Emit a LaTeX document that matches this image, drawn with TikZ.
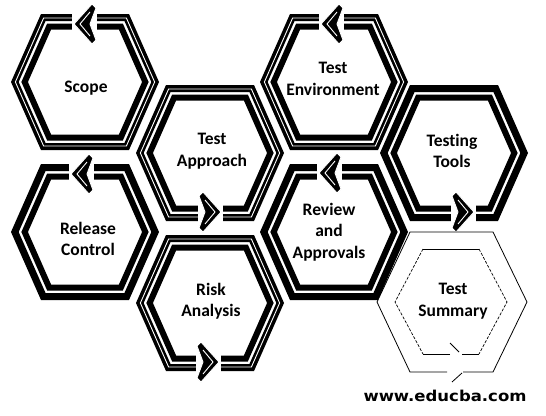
\documentclass[tikz,border=0pt]{standalone}
\usepackage{fontspec}
\setmainfont{Carlito}[Ligatures=NoCommon]
\newfontfamily\webfont{DejaVu Sans}

% flat-topped hexagon around (cx,cy), shrunk inward by d
\newcommand{\hexat}[3]{({#1-74+1.093*(#3)},{#2}) -- ({#1-44+0.651*(#3)},{#2-68+(#3)}) -- ({#1+44-0.651*(#3)},{#2-68+(#3)}) -- ({#1+74-1.093*(#3)},{#2}) -- ({#1+44-0.651*(#3)},{#2+68-(#3)}) -- ({#1-44+0.651*(#3)},{#2+68-(#3)}) -- cycle}

% double ring: wide outer band and narrower inner band
\newcommand{\ringhex}[2]{%
  \draw[outerband] \hexat{#1}{#2}{3.5};
  \draw[innerband] \hexat{#1}{#2}{12.5};}
% hairline cut inside the outer band
\newcommand{\ringcut}[2]{\draw[cutline] \hexat{#1}{#2}{4};}

% chevron arrowhead on a ring: tip x, tip y, direction (1 right, -1 left)
\newcommand{\ringarrow}[3]{%
  \fill[white] ({#1+(#3)*2},{#2-11}) rectangle ({#1-(#3)*23},{#2+11});
  \filldraw[fill=black, draw=white, line width=0.9pt, line join=miter]
    (#1,#2) -- ({#1-(#3)*18},{#2-20}) -- ({#1-(#3)*22},{#2-16}) -- ({#1-(#3)*16},{#2}) -- ({#1-(#3)*22},{#2+16}) -- ({#1-(#3)*18},{#2+20}) -- cycle;
  \draw[cutline] ({#1-(#3)*16},{#2-12}) -- ({#1-(#3)*6},{#2}) -- ({#1-(#3)*16},{#2+12});}

\begin{document}
\begin{tikzpicture}[x=1pt,y=-1pt,
  outerband/.style={draw=black, line width=7pt, line join=miter},
  innerband/.style={draw=black, line width=6pt, line join=miter},
  cutline/.style={draw=white, line width=0.9pt},
  thinline/.style={draw=black, line width=0.8pt},
  dotline/.style={draw=black, line width=0.7pt, dash pattern=on 3pt off 1.5pt},
  hextext/.style={font=\fontsize{17.5}{21.5}\selectfont\bfseries, align=center, text=black, inner sep=0pt},
  webtext/.style={font=\webfont\bfseries\fontsize{15}{18}\selectfont, text=black, inner sep=0pt, xscale=1.1}]
\useasboundingbox[fill=white] (0,0) rectangle (546,415);

% rings
\ringhex{85}{82}   \ringcut{85}{82}
\ringhex{210}{153} \ringcut{210}{153}
\ringhex{334}{82}  \ringcut{334}{82}
\ringhex{454}{153}
\ringhex{85}{232}
\ringhex{210}{303} \ringcut{210}{303}
\ringhex{334}{232}

% arrowheads on the rings
\ringarrow{74}{24}{-1}
\ringarrow{321}{24}{-1}
\ringarrow{71}{174}{-1}
\ringarrow{319}{173}{-1}
\ringarrow{221}{212}{1}
\ringarrow{474}{212}{1}
\ringarrow{219}{362}{1}

% light outline hexagon
\draw[thinline] (463,372) -- (493,372) -- (527,302) -- (493,232) -- (410,232) -- (377,302) -- (410,372) -- (447,372);
\draw[thinline] (462,354) -- (479,354);
\draw[thinline] (450,354) -- (423,354);
\draw[thinline] (423,249) -- (479,249);
\draw[dotline] (479,249) -- (507,302) -- (479,354);
\draw[dotline] (423,249) -- (395,302) -- (423,354);
\draw[thinline] (450,343) -- (459,352);
\draw[thinline] (452,382) -- (462,373);

% labels
\node[hextext] (scope) at (86,88) {Scope};
\node[hextext] (approach) at (212,151) {Test\\Approach};
\node[hextext] (environment) at (333,79) {Test\\Environment};
\node[hextext] (tools) at (452,151) {Testing\\Tools};
\node[hextext] (release) at (88,239) {Release\\Control};
\node[hextext] (risk) at (211,301) {Risk\\Analysis};
\node[hextext] (review) at (329,232) {Review\\and\\Approvals};
\node[hextext] (summary) at (453,301) {Test\\Summary};
\node[webtext] (web) at (445,396) {www.educba.com};
\end{tikzpicture}
\end{document}
